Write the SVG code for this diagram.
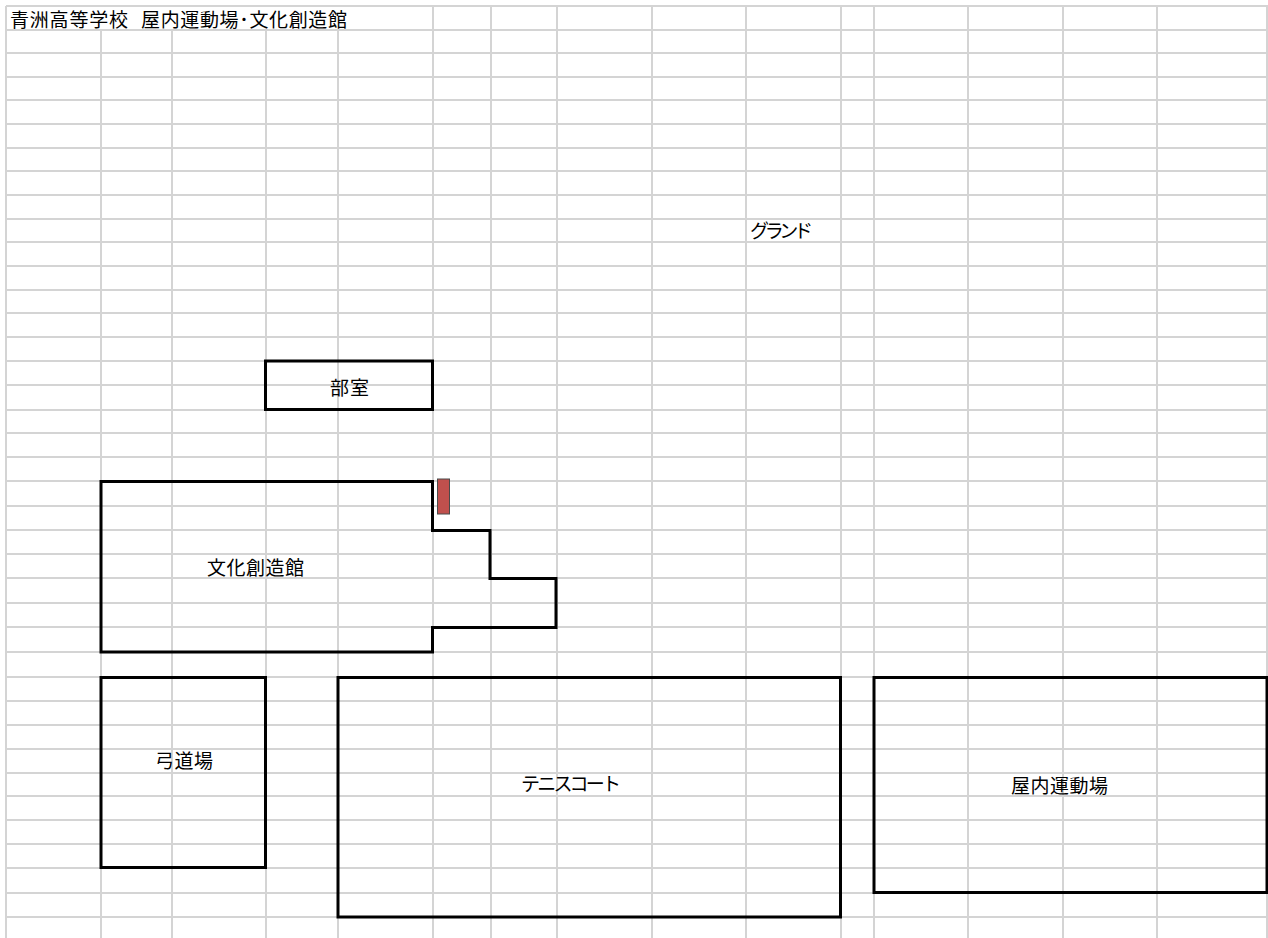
<svg xmlns="http://www.w3.org/2000/svg" width="1268" height="938" viewBox="0 0 1268 938">
<style>
.g{fill:none;stroke:#d4d4d4;stroke-width:2}
.b{fill:none;stroke:#000;stroke-width:3;stroke-linejoin:miter}
text{font-family:"Noto Sans CJK JP","Noto Sans CJK SC",sans-serif;font-size:19px;fill:#000}
</style>
<rect width="1268" height="938" fill="#fff"/>
<g id="grid" class="g">
<path d="M6 6H1268M6 30H1268M6 53H1268M6 77H1268M6 100H1268M6 124H1268M6 148H1268M6 171H1268M6 195H1268M6 219H1268M6 242H1268M6 266H1268M6 290H1268M6 313H1268M6 337H1268M6 361H1268M6 385H1268M6 410H1268M6 433H1268M6 457H1268M6 481H1268M6 506H1268M6 530H1268M6 554H1268M6 578H1268M6 603H1268M6 627H1268M6 652H1268M6 677H1268M6 701H1268M6 725H1268M6 749H1268M6 773H1268M6 796H1268M6 820H1268M6 844H1268M6 868H1268M6 893H1268M6 917H1268"/>
<path d="M6 6V938M101 30V938M172 30V938M266 30V938M338 30V938M433 6V938M491 6V938M557 6V938M652 6V938M746 6V938M841 6V938M874 6V938M968 6V938M1063 6V938M1157 6V938M1267 6V938"/>
</g>
<g id="title"><text x="10" y="27" textLength="118" lengthAdjust="spacing">青洲高等学校</text><text x="141" y="27" textLength="206" lengthAdjust="spacing">屋内運動場･文化創造館</text></g>
<g id="ground"><text x="750" y="238" textLength="63" lengthAdjust="spacing">グランド</text></g>
<g id="bushitsu"><rect class="b" x="265.500" y="361" width="167" height="48.500"/><text x="330" y="395" textLength="39" lengthAdjust="spacing">部室</text></g>
<g id="bunka"><path class="b" d="M101 481.500H432.500V530.500H490V578.500H556V627.500H432.500V652H101Z"/><text x="207" y="575" textLength="97" lengthAdjust="spacing">文化創造館</text></g>
<g id="door"><rect x="437.500" y="479" width="12" height="35" fill="#c0504d" stroke="#4a4a4a" stroke-width="1"/></g>
<g id="kyudo"><rect class="b" x="101" y="677.500" width="164.500" height="190"/><text x="155" y="768" textLength="58" lengthAdjust="spacing">弓道場</text></g>
<g id="tennis"><rect class="b" x="338" y="677.500" width="502.500" height="239.500"/><text x="521" y="791" textLength="100" lengthAdjust="spacing">テニスコート</text></g>
<g id="gym"><rect class="b" x="874" y="677.500" width="393" height="215"/><text x="1011" y="793" textLength="97" lengthAdjust="spacing">屋内運動場</text></g>
</svg>
